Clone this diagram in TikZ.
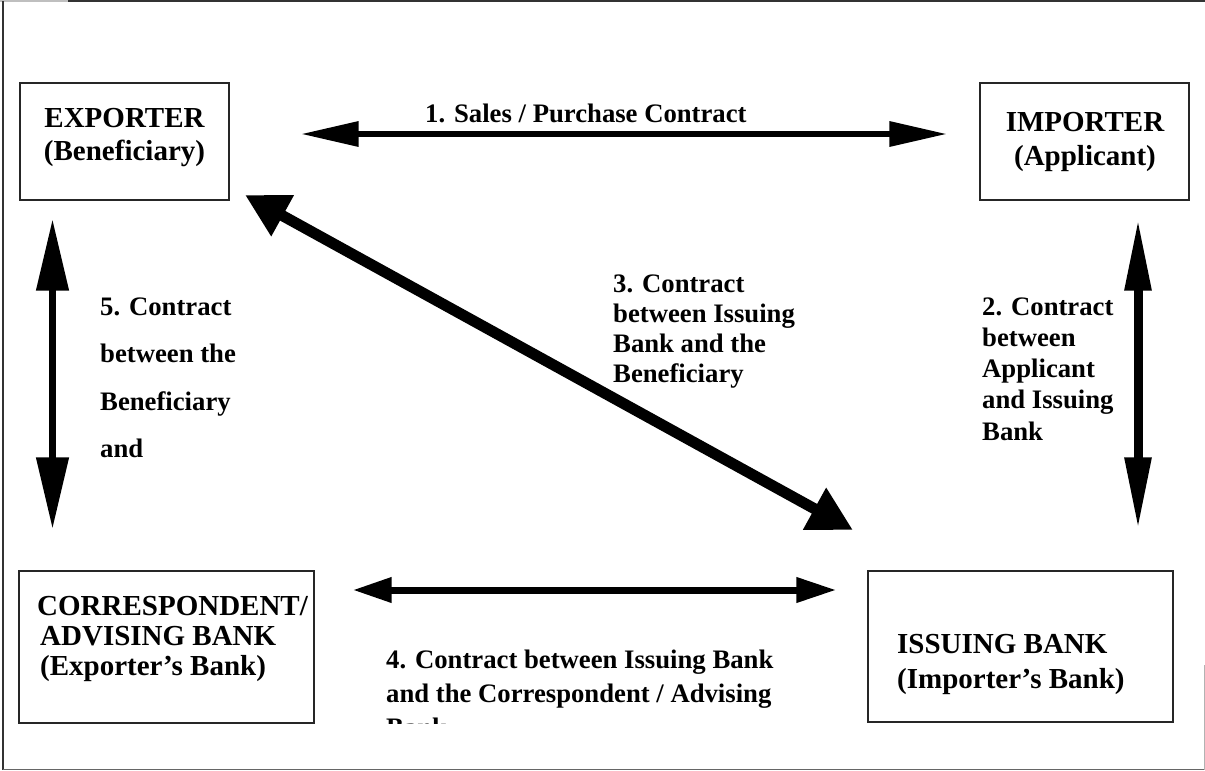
\documentclass[tikz,border=0pt]{standalone}
\usepackage{fontspec}
\setmainfont{Liberation Serif}
\usetikzlibrary{arrows.meta}
\newcommand\mlinesL[2]{\vtop{\baselineskip=#1\lineskiplimit=-100pt\lineskip=0pt\halign{##\hfil\cr#2\crcr}}}
\newcommand\mlinesC[2]{\vtop{\baselineskip=#1\lineskiplimit=-100pt\lineskip=0pt\halign{\hfil##\hfil\cr#2\crcr}}}
\begin{document}
\begin{tikzpicture}[x=1pt,y=-1pt,
  box/.style={draw=black!85,line width=1.4pt,inner sep=0pt},
  btxt/.style={inner sep=0pt,anchor=base,font=\fontsize{29}{30}\selectfont\bfseries},
  btxtl/.style={inner sep=0pt,anchor=base west,font=\fontsize{29}{30}\selectfont\bfseries},
  ltxt/.style={inner sep=0pt,anchor=base west,font=\fontsize{26.7}{30}\selectfont\bfseries},
  arrH/.style={line width=6.5pt,{Triangle[length=58pt,width=24pt]}-{Triangle[length=58pt,width=24pt]}},
  arrB/.style={line width=7pt,{Triangle[length=39pt,width=24pt]}-{Triangle[length=40pt,width=24pt]}},
  arrL/.style={line width=7.7pt,{Triangle[length=72pt,width=31pt]}-{Triangle[length=72pt,width=31pt]}},
  arrR/.style={line width=9pt,{Triangle[length=72pt,width=25pt]}-{Triangle[length=72pt,width=25pt]}},
  arrD/.style={line width=11pt,{Triangle[length=43pt,width=44pt]}-{Triangle[length=44pt,width=45pt]}},
  frame/.style={black!80,line width=1.5pt}]
\useasboundingbox (0,0) rectangle (1205,771);
% frame
\draw[black!25,line width=1.5pt] (0,1) -- (68,1);
\draw[frame] (68,1) -- (1205,1);
\draw[frame] (3,1) -- (3,769.5);
\draw[black!60,line width=1.5pt] (3,769.5) -- (1205,769.5);
\draw[black!30,line width=1pt] (1204,665) -- (1204,770);
% boxes
\node[box,minimum width=209pt,minimum height=117pt] (exp) at (124.5,141.5) {};
\node[box,minimum width=209pt,minimum height=117pt] (imp) at (1084.5,141.5) {};
\node[box,minimum width=295pt,minimum height=152pt] (cor) at (166.5,647) {};
\node[box,minimum width=305pt,minimum height=151pt] (iss) at (1020.5,646.5) {};
% box texts
\node[btxt] (expT) at (124.5,127) {\mlinesC{33pt}{EXPORTER\cr (Beneficiary)}};
\node[btxt] (impT) at (1085,131.5) {\mlinesC{34pt}{IMPORTER\cr (Applicant)}};
\node[btxtl] (corT) at (37,615) {\mlinesL{30pt}{CORRESPONDENT/\cr \kern3pt ADVISING BANK\cr \kern3pt (Exporter's Bank)}};
\node[btxtl] (issT) at (897,653) {\mlinesL{35pt}{ISSUING BANK\cr (Importer's Bank)}};
% connectors
\draw[arrH,shorten <=71pt,shorten >=32pt] ([yshift=7.5pt]exp.east) -- ([yshift=7.5pt]exp.east -| imp.west);
\draw[arrR,shorten <=18pt,shorten >=41pt] ([xshift=53.5pt]imp.south) -- ([xshift=53.5pt]imp.south |- iss.north);
\draw[arrL,shorten <=18pt,shorten >=41pt] ([xshift=-72pt]exp.south) -- ([xshift=-72pt]exp.south |- cor.north);
\draw[arrB,shorten <=38pt,shorten >=31pt] ([yshift=57pt]cor.east) -- ([yshift=57pt]cor.east -| iss.west);
\coordinate (d1) at (245,195);
\coordinate (d2) at (853,530);
\draw[arrD] (d1) -- (d2);
% labels
\node[ltxt] (l1) at (425,122) {1. Sales / Purchase Contract};
\node[ltxt] (l2) at (982,315) {\mlinesL{31.3pt}{2. Contract\cr between\cr Applicant\cr and Issuing\cr Bank}};
\node[ltxt] (l3) at (613,292) {\mlinesL{30pt}{3. Contract\cr between Issuing\cr Bank and the\cr Beneficiary}};
\begin{scope}
\clip (300,600) rectangle (860,723);
\node[ltxt] (l4) at (386,668) {\mlinesL{34pt}{4. Contract between Issuing Bank\cr and the Correspondent / Advising\cr Bank}};
\end{scope}
\node[ltxt] (l5) at (100,315) {\mlinesL{47.5pt}{5. Contract\cr between the\cr Beneficiary\cr and}};
\end{tikzpicture}
\end{document}
